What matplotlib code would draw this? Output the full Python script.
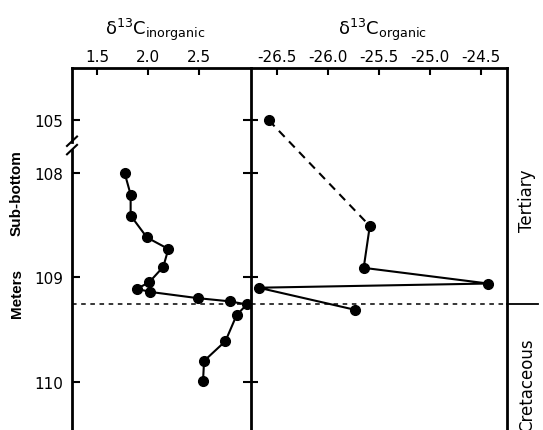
import matplotlib
matplotlib.use("Agg")
import matplotlib.pyplot as plt
import numpy as np

plt.rcParams['font.family'] = ['DejaVu Sans']
plt.rcParams['axes.unicode_minus'] = False
plt.rcParams['mathtext.fontset'] = 'dejavusans'

# depth (m sub-bottom) and d13C values
inorg_depth = [108.0, 108.21, 108.41, 108.62, 108.73, 108.9, 109.05, 109.11,
               109.14, 109.2, 109.23, 109.26, 109.36, 109.61, 109.8, 109.99]
inorg_d13c = [1.77, 1.83, 1.83, 1.99, 2.20, 2.15, 2.01, 1.89,
              2.02, 2.49, 2.80, 2.97, 2.87, 2.76, 2.55, 2.54]

org_depth = [105.0, 108.51, 108.91, 109.06, 109.1, 109.31]
org_d13c = [-26.58, -25.59, -25.65, -24.43, -26.68, -25.74]

boundary = 109.26          # Tertiary / Cretaceous
depth_ticks = [105, 108, 109, 110]
inorg_ticks = [1.5, 2.0, 2.5]
org_ticks = [-26.5, -26.0, -25.5, -25.0, -24.5]

BREAK_SHIFT = 2.5  # axis break between 105 and 108 m


def to_axis(d):
    d = np.asarray(d, dtype=float)
    return np.where(d < 107, d + BREAK_SHIFT, d)


fig = plt.figure(figsize=(5.43, 4.31), dpi=100)
ax1 = fig.add_axes([0.1326, 0.0, 0.3296, 0.8399])
ax2 = fig.add_axes([0.4622, 0.0, 0.4715, 0.8399])

ylim = (110.46, 107.0)

for ax in (ax1, ax2):
    ax.set_ylim(*ylim)
    ax.spines['bottom'].set_visible(False)
    for s in ('top', 'left', 'right'):
        ax.spines[s].set_linewidth(2)
    ax.xaxis.set_ticks_position('top')
    ax.tick_params(axis='x', direction='in', length=5, width=1.5,
                   labelsize=11, pad=3)
    ax.axhline(boundary, color='k', lw=1.1, dashes=(3, 3))

# left panel: inorganic
ax1.plot(inorg_d13c, to_axis(inorg_depth), '-o', color='k', lw=1.5, ms=7)
ax1.set_xlim(1.255, 3.01)
ax1.set_xticks(inorg_ticks)
ax1.set_xticklabels([f"{v:.1f}" for v in inorg_ticks])
ax1.set_yticks(to_axis(depth_ticks))
ax1.set_yticklabels([str(v) for v in depth_ticks])
ax1.tick_params(axis='y', direction='in', length=6, width=1.5,
                labelsize=11, pad=6, right=True)
ax1.spines['right'].set_visible(False)
ax1.spines['left'].set_bounds(107.78, ylim[0])
# upper piece of the broken axis and the break marks
yt = ax1.get_yaxis_transform()
ax1.plot([0, 0], [ylim[1], 107.705], color='k', lw=2, transform=yt, clip_on=False)
for yb in (107.7, 107.78):
    ax1.plot([-0.028, 0.028], [yb + 0.045, yb - 0.045], color='k', lw=1.5,
             transform=yt, clip_on=False)

# right panel: organic
ax2.plot(org_d13c[:2], to_axis(org_depth[:2]), '--', color='k', lw=1.5,
         dashes=(4, 3))
ax2.plot(org_d13c[1:], to_axis(org_depth[1:]), '-', color='k', lw=1.5)
ax2.plot(org_d13c, to_axis(org_depth), 'o', color='k', ms=7)
ax2.set_xlim(-26.755, -24.245)
ax2.set_xticks(org_ticks)
ax2.set_xticklabels([f"{v:.1f}" for v in org_ticks])
ax2.set_yticks(to_axis(depth_ticks))
ax2.tick_params(axis='y', direction='in', length=5, width=1.5,
                labelleft=False, left=True, right=False)
yt2 = ax2.get_yaxis_transform()
ax2.plot([1.0, 1.12], [boundary, boundary], color='k', lw=1.3,
         transform=yt2, clip_on=False)

fig.text(0.2855, 0.930, r'δ$^{13}$C$_{\mathrm{inorganic}}$', fontsize=13,
         ha='center', va='center')
fig.text(0.7035, 0.930, r'δ$^{13}$C$_{\mathrm{organic}}$', fontsize=13,
         ha='center', va='center')

fig.text(0.0313, 0.552, 'Sub-bottom', rotation=90, ha='center', va='center',
         fontsize=11, fontweight='bold', family='Liberation Sans')
fig.text(0.0313, 0.318, 'Meters', rotation=90, ha='center', va='center',
         fontsize=11, fontweight='bold', family='Liberation Sans')

fig.text(0.9705, 0.534, 'Tertiary', rotation=90, ha='center', va='center',
         fontsize=12)
fig.text(0.9705, 0.107, 'Cretaceous', rotation=90, ha='center', va='center',
         fontsize=12)

fig.savefig('out.png', dpi=100)
